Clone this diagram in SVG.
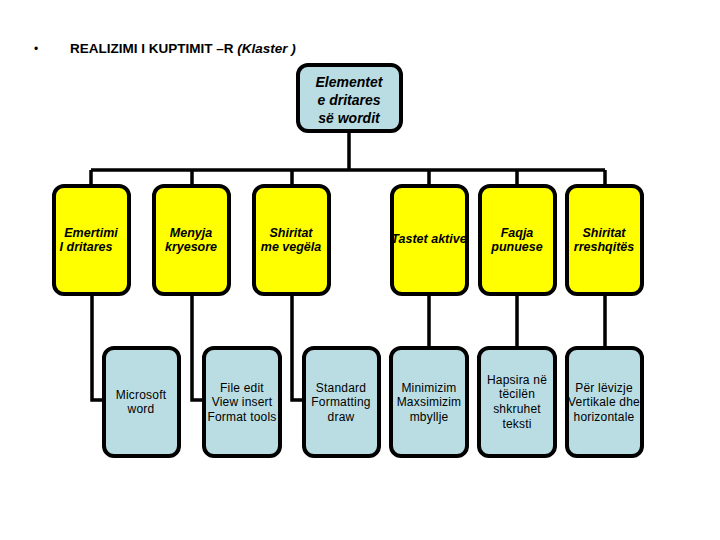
<svg xmlns="http://www.w3.org/2000/svg" width="720" height="540" viewBox="0 0 720 540">
<style>
.box{stroke:#000;stroke-width:4}
.top{fill:#B9DDE2}
.yel{fill:#FFFF00}
.teal{fill:#B9DDE2}
.con{fill:none;stroke:#000;stroke-width:3.5}
text{font-family:"Liberation Sans",Arial,sans-serif;fill:#000;text-anchor:middle}
.t1{font-size:14px;font-weight:bold;font-style:italic}
.t2{font-size:12.5px;font-weight:bold;font-style:italic}
.t3{font-size:12px;letter-spacing:0.2px}
</style>
<rect width="720" height="540" fill="#fff"/>
<g id="title">
<text x="36" y="53" style="font-size:12px">•</text>
<text x="70" y="53" style="font-size:13.5px;font-weight:bold;text-anchor:start">REALIZIMI I KUPTIMIT –R <tspan style="font-style:italic">(Klaster )</tspan></text>
</g>
<g id="connectors">
<path class="con" d="M349 132 V170 M91 170 H605 M91 170 V186 M192 170 V186 M292 170 V186 M429 170 V186 M517 170 V186 M605 170 V186"/>
<path class="con" d="M92 294 V400 H104 M192 294 V400 H204 M292 294 V400 H304"/>
<path class="con" d="M429 294 V348 M517 294 V348 M605 294 V348"/>
</g>
<g id="n0"><rect class="box top" x="298" y="65" width="103" height="66" rx="10"/>
<text class="t1" x="349" y="87">Elementet</text><text class="t1" x="349" y="105">e dritares</text><text class="t1" x="349" y="123">së  wordit</text></g>
<g id="y1"><rect class="box yel" x="54" y="186" width="75" height="108" rx="10"/>
<text class="t2" x="91" y="237">Emertimi</text><text class="t2" x="86" y="251">I dritares</text></g>
<g id="y2"><rect class="box yel" x="154" y="186" width="75" height="108" rx="10"/>
<text class="t2" x="191" y="237">Menyja</text><text class="t2" x="191" y="251">kryesore</text></g>
<g id="y3"><rect class="box yel" x="254" y="186" width="75" height="108" rx="10"/>
<text class="t2" x="291" y="237">Shiritat</text><text class="t2" x="291" y="251">me vegëla</text></g>
<g id="y4"><rect class="box yel" x="392" y="186" width="75" height="108" rx="10"/>
<text class="t2" x="429" y="243">Tastet aktive</text></g>
<g id="y5"><rect class="box yel" x="480" y="186" width="75" height="108" rx="10"/>
<text class="t2" x="517" y="237">Faqja</text><text class="t2" x="517" y="251">punuese</text></g>
<g id="y6"><rect class="box yel" x="567" y="186" width="75" height="108" rx="10"/>
<text class="t2" x="604" y="237">Shiritat</text><text class="t2" x="604" y="251">rreshqitës</text></g>
<g id="b1"><rect class="box teal" x="104" y="348" width="75" height="108" rx="10"/>
<text class="t3" x="141" y="399">Microsoft</text><text class="t3" x="141" y="413">word</text></g>
<g id="b2"><rect class="box teal" x="204" y="348" width="76" height="108" rx="10"/>
<text class="t3" x="242" y="392">File edit</text><text class="t3" x="242" y="406">View insert</text><text class="t3" x="242" y="421">Format tools</text></g>
<g id="b3"><rect class="box teal" x="304" y="348" width="75" height="108" rx="10"/>
<text class="t3" x="341" y="392">Standard</text><text class="t3" x="341" y="406">Formatting</text><text class="t3" x="341" y="421">draw</text></g>
<g id="b4"><rect class="box teal" x="391" y="348" width="76" height="108" rx="10"/>
<text class="t3" x="429" y="392">Minimizim</text><text class="t3" x="429" y="406">Maxsimizim</text><text class="t3" x="429" y="421">mbyllje</text></g>
<g id="b5"><rect class="box teal" x="479" y="348" width="76" height="108" rx="10"/>
<text class="t3" x="517" y="384">Hapsira në</text><text class="t3" x="517" y="398">tëcilën</text><text class="t3" x="517" y="413">shkruhet</text><text class="t3" x="517" y="428">teksti</text></g>
<g id="b6"><rect class="box teal" x="567" y="348" width="75" height="108" rx="10"/>
<text class="t3" x="604" y="392">Për lëvizje</text><text class="t3" x="604" y="406">Vertikale dhe</text><text class="t3" x="604" y="421">horizontale</text></g>
</svg>
